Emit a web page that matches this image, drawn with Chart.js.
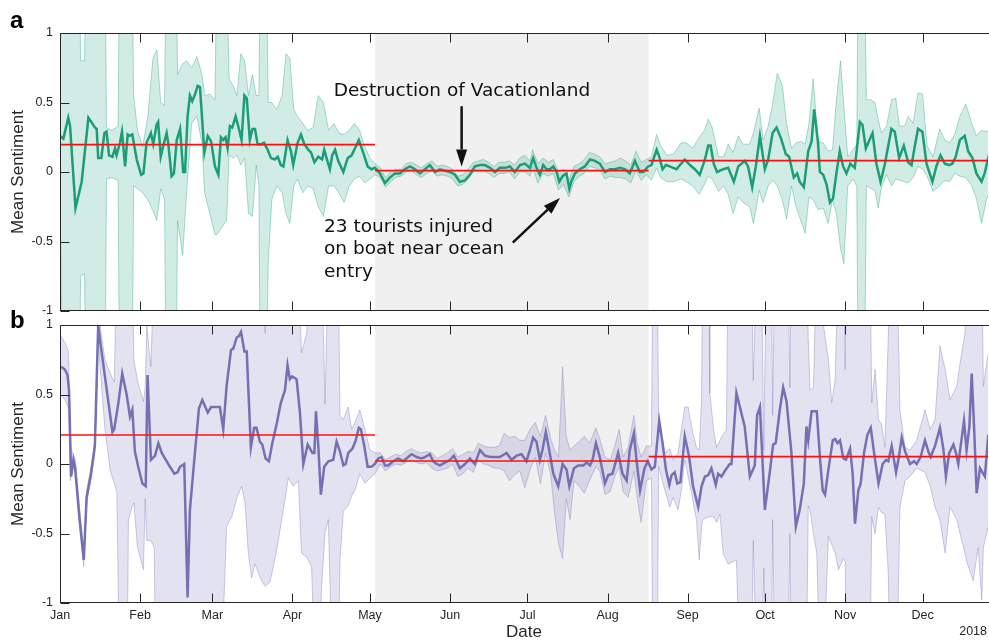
<!DOCTYPE html>
<html>
<head>
<meta charset="utf-8">
<script src="https://cdn.jsdelivr.net/npm/chart.js@4.4.1/dist/chart.umd.min.js"></script>
<style>
body { margin: 0; width: 989px; height: 641px; overflow: hidden; background: #fff; position: relative; }
canvas { position: absolute; left: 0; }
#chartA { top: 0; }
#chartB { top: 318px; }
.panel { position: absolute; font: bold 24px "Liberation Sans", Arial, sans-serif; line-height: 24px; color: #000; }
</style>
</head>
<body>
<canvas id="chartA" width="989" height="320"></canvas>
<canvas id="chartB" width="989" height="323"></canvas>
<div class="panel" style="left:10px;top:8px">a</div>
<div class="panel" style="left:10px;top:308px">b</div>
<script>
// x axis is day of year 2017 (0 = Jan 1)
const monthDays = [0, 31, 59, 90, 120, 151, 181, 212, 243, 273, 304, 334]
const monthNames = ['Jan', 'Feb', 'Mar', 'Apr', 'May', 'Jun', 'Jul', 'Aug', 'Sep', 'Oct', 'Nov', 'Dec']
const yTicks = [-1, -0.5, 0, 0.5, 1]

// eruption periods and the mean of each one
const periodStart = [0, 122, 227.9]
const periodEnd = [122, 227.9, 359.3]
const periodMeanA = [0.197, 0.01, 0.082]
const periodMeanB = [0.209, 0.022, 0.053]
const grayStart = 122
const grayEnd = 227.9

// panel a: [day, mean sentiment]
const sentA = [
    [0, 0.26], [1.3, 0.24], [3.2, 0.39], [3.9, 0.33], [6, -0.26], [8.4, -0.07], [11, 0.39], [12.5, 0.35], [13.5, 0.32], [14.2, 0.31],
    [14.8, 0.10], [16, 0.10], [17.2, 0.28], [18, 0.29], [19, 0.12], [20.3, 0.11], [21.3, 0.17], [21.9, 0.12], [23.2, 0.21], [24, 0.29],
    [25.2, 0.04], [26.2, 0.27], [27, 0.26], [28, 0.27], [29.7, 0.09], [31.4, -0.02], [32.3, -0.01], [33.5, 0.21], [35.2, 0.28], [36.1, 0.20],
    [37.4, 0.34], [38, 0.36], [39, 0.11], [40, 0.19], [41.3, 0.28], [41.9, 0.21], [43.2, -0.03], [44.1, -0.01], [45.2, 0.23], [46.5, 0.31],
    [47.7, 0.00], [48.4, 0.00], [49.4, 0.40], [50.3, 0.55], [51.2, 0.51], [52.3, 0.56], [53.3, 0.62], [54.2, 0.61], [55.9, 0.14], [57.2, 0.26],
    [58.5, 0.22], [60, 0.04], [61.3, -0.02], [62.3, 0.25], [63.2, 0.23], [64.1, 0.25], [64.9, 0.17], [65.8, 0.33], [66.7, 0.32], [68, 0.40],
    [69, 0.33], [70.3, 0.23], [71.4, 0.55], [72.3, 0.53], [73.5, 0.23], [74.5, 0.31], [75.5, 0.31], [76.5, 0.20], [78, 0.20], [79, 0.21],
    [80.4, 0.16], [81.7, 0.10], [83.2, 0.09], [84.3, 0.11], [85.5, 0.05], [86.5, 0.04], [88.1, 0.23], [89.4, 0.15], [90.3, 0.05], [92, 0.21],
    [93.3, 0.27], [94.6, 0.20], [96.1, 0.16], [97.2, 0.14], [98.5, 0.07], [100, 0.11], [101.5, 0.09], [102.3, 0.16], [103.2, 0.10], [104.5, 0.02],
    [105.4, 0.12], [106.5, 0.16], [107.7, 0.08], [109.7, 0.00], [111.4, 0.10], [112.9, 0.12], [114.2, 0.17], [115.7, 0.23], [117.4, 0.14], [119.1, 0.04],
    [120.6, 0.02], [122, 0.03], [123.9, -0.01], [125.8, -0.08], [127.7, -0.04], [129.7, -0.01], [131.6, -0.01], [133.5, 0.02], [135.5, 0.04], [137.4, 0.02],
    [139.4, -0.01], [141.3, 0.02], [143.2, 0.05], [145.2, 0.00], [147.1, 0.02], [149, 0.01], [151, 0.00], [152.9, -0.02], [154.8, -0.07], [156.8, -0.06],
    [158.7, -0.02], [160.6, 0.04], [162.6, 0.05], [164.5, 0.05], [166.5, 0.03], [168.4, 0.00], [170.3, 0.03], [172.3, 0.03], [174.2, 0.04], [176.1, 0.00],
    [178.1, 0.05], [180, 0.06], [181.9, 0.03], [183.2, 0.10], [184.5, 0.03], [185.8, -0.02], [187.1, 0.05], [188.4, 0.02], [189.7, 0.02], [191, 0.04],
    [192.3, 0.00], [193.3, -0.07], [194.6, -0.03], [196.1, -0.01], [197.2, -0.12], [198.1, -0.06], [199.4, -0.01], [201.3, 0.02], [203.2, 0.04], [205.2, 0.09],
    [207.1, 0.08], [209, 0.06], [211, 0.00], [212.9, 0.02], [214.8, 0.02], [216.8, 0.03], [218.7, 0.02], [220.6, -0.01], [222.6, 0.08], [224.5, 0.00],
    [225.8, 0.00], [227.7, 0.04], [229, 0.05], [229.7, 0.09], [231, 0.16], [232, 0.11], [233.3, 0.02], [234.6, 0.05], [236.1, 0.04], [237.4, 0.03],
    [238.7, 0.02], [240, 0.05], [241.9, 0.09], [243.9, 0.05], [245.8, 0.02], [247.7, -0.02], [249.7, 0.09], [251, 0.19], [251.9, 0.19], [253.1, 0.06],
    [254.4, 0.00], [256.8, 0.02], [258.7, 0.03], [260.9, -0.07], [262.6, 0.04], [263.9, 0.06], [265.1, 0.08], [266.4, 0.04], [268, -0.11], [269.4, 0.04],
    [271, 0.26], [272.9, 0.02], [274.2, 0.09], [275.9, 0.28], [277.4, 0.32], [279, 0.25], [281, 0.13], [282.3, 0.11], [284.1, -0.04], [285.4, -0.01],
    [286.4, -0.07], [288, -0.11], [289.7, 0.15], [291, 0.22], [292, 0.45], [293.5, 0.21], [294.2, 0.00], [295.5, -0.02], [296.8, -0.09], [298.1, -0.22],
    [299.3, -0.19], [300.6, -0.01], [301.9, 0.15], [303.2, 0.04], [304.5, -0.01], [306, 0.06], [307.7, 0.03], [309.7, 0.36], [310.7, 0.34], [312, 0.17],
    [314.6, 0.28], [316.1, 0.06], [317.7, -0.07], [319.3, 0.05], [321.9, 0.31], [323.2, 0.29], [324.9, 0.10], [326.7, 0.19], [328.4, 0.07], [329.7, 0.05],
    [331, 0.19], [332.2, 0.31], [333.9, 0.29], [335.5, 0.06], [337.8, -0.07], [339.3, 0.04], [340.9, 0.12], [342.6, 0.06], [344.2, 0.05], [345.5, 0.06],
    [346.8, 0.11], [348.4, 0.23], [350.3, 0.26], [351.6, 0.15], [353.3, 0.10], [354.8, -0.01], [356.8, -0.07], [358, -0.01], [359.6, 0.12]
]

// panel a: [day, upper bound, lower bound]
const bandA = [
    [0, 0.78, -0.18], [1, 1.5, -1.5], [7.5, 1.5, -1.5], [8, 0.80, -0.75], [9.5, 0.80, -0.73], [10, 1.5, -1.5], [17.5, 1.5, -1.5], [18, 0.32, -0.05],
    [20, 0.30, -0.04], [22.5, 0.33, -0.06], [23, 1.5, -1.5], [28, 1.5, -1.5], [28.5, 0.55, -0.10], [30, 0.30, -0.12], [32, 0.18, -0.15], [34, 0.40, -0.20],
    [36, 0.82, -0.28], [37.5, 0.88, -0.35], [39, 0.50, -0.12], [40.5, 0.48, -0.20], [41, 1.5, -1.5], [45, 1.5, -1.5], [45.5, 0.70, -0.35], [47.5, 0.78, -0.60],
    [49, 0.80, -0.15], [51, 0.75, 0.35], [53, 0.83, 0.40], [55, 0.70, 0.20], [56, 0.55, -0.15], [58, 0.56, -0.30], [60, 0.52, -0.45], [60.7, 1.5, -0.45],
    [64.5, 1.5, -0.35], [65.5, 0.67, 0.12], [67, 0.62, 0.10], [68.5, 0.55, 0.12], [70, 0.85, 0.05], [71.5, 0.80, 0.10], [73, 0.55, -0.30], [74.5, 0.70, -0.32],
    [76, 0.55, 0.05], [77, 0.55, -0.10], [77.5, 1.5, -1.5], [80, 1.5, -1.5], [80.6, 0.50, -0.66], [82, 0.50, -0.20], [84, 0.45, -0.10], [86, 0.55, -0.15],
    [87.5, 0.85, -0.30], [89, 0.82, -0.37], [90.5, 0.45, -0.10], [92, 0.40, -0.05], [94, 0.35, -0.15], [96, 0.30, -0.10], [98, 0.32, -0.12], [100, 0.55, -0.25],
    [102, 0.50, -0.32], [104, 0.30, -0.10], [106, 0.35, -0.10], [108, 0.28, -0.15], [110, 0.27, -0.22], [112, 0.30, -0.10], [114, 0.35, -0.05], [116, 0.30, -0.03],
    [118, 0.18, -0.08], [120, 0.10, -0.05], [122, 0.06, -0.02], [124, 0.03, -0.04], [126, -0.04, -0.11], [128, 0.00, -0.07], [130, 0.02, -0.04], [132, 0.02, -0.03],
    [134, 0.06, 0.00], [136, 0.07, 0.01], [138, 0.05, -0.02], [140, 0.03, -0.04], [142, 0.06, -0.01], [144, 0.08, 0.01], [146, 0.04, -0.03], [148, 0.05, -0.02],
    [150, 0.04, -0.03], [152, 0.02, -0.05], [154, -0.03, -0.10], [156, -0.02, -0.09], [158, 0.02, -0.05], [160, 0.07, 0.00], [162, 0.08, 0.01], [164, 0.09, 0.01],
    [166, 0.07, -0.01], [168, 0.04, -0.04], [170, 0.07, -0.01], [172, 0.07, -0.01], [174, 0.08, 0.00], [176, 0.05, -0.05], [178, 0.10, 0.00], [180, 0.12, 0.00],
    [182, 0.08, -0.03], [183, 0.16, 0.04], [185, 0.06, -0.08], [187, 0.10, -0.01], [189, 0.07, -0.03], [191, 0.09, -0.01], [193, 0.00, -0.13], [195, 0.02, -0.09],
    [197, -0.06, -0.18], [199, 0.04, -0.07], [201, 0.06, -0.03], [203, 0.09, -0.01], [205, 0.14, 0.04], [207, 0.13, 0.03], [209, 0.11, 0.01], [211, 0.06, -0.05],
    [213, 0.07, -0.03], [215, 0.08, -0.04], [217, 0.10, -0.04], [219, 0.08, -0.05], [221, 0.05, -0.08], [223, 0.15, 0.01], [225, 0.07, -0.06], [227, 0.09, -0.02],
    [229, 0.11, -0.06], [231, 0.27, 0.03], [232.5, 0.19, -0.04], [235, 0.12, -0.07], [237.5, 0.13, -0.07], [240.5, 0.21, -0.05], [242.5, 0.21, -0.07], [245, 0.17, -0.10],
    [247.5, 0.25, -0.16], [249.5, 0.30, -0.09], [251, 0.38, -0.03], [252.5, 0.32, -0.05], [255, 0.11, -0.14], [257, 0.11, -0.10], [258.7, 0.20, -0.16], [260.6, 0.14, -0.30],
    [262.6, 0.26, -0.18], [264.5, 0.20, -0.22], [267, 0.20, -0.25], [268.5, 0.28, -0.37], [270.7, 0.46, -0.13], [272.2, 0.23, -0.22], [274.2, 0.33, -0.10], [276, 0.50, -0.06],
    [277.7, 0.71, -0.10], [279.7, 0.62, -0.20], [281.3, 0.35, -0.34], [283.2, 0.17, -0.10], [285, 0.21, -0.25], [287, 0.22, -0.36], [288.5, 0.20, -0.44], [290, 0.35, -0.18],
    [291.6, 0.67, -0.20], [293.5, 0.22, -0.27], [295.5, 0.21, -0.26], [297.4, 0.15, -0.37], [299.1, 0.16, -0.20], [300.6, 0.52, -0.30], [302.2, 0.80, -0.55], [303.5, 0.47, -0.66],
    [305, 0.11, -0.10], [307, 0.16, -0.05], [308.5, 0.20, -0.10], [309, 1.5, -1.5], [311.5, 1.5, -1.5], [312.2, 0.52, -0.10], [314, 0.52, -0.12], [315.5, 0.50, -0.13],
    [316.8, 0.38, -0.26], [318, 0.28, -0.11], [320, 0.33, -0.02], [322, 0.52, -0.10], [323.6, 0.53, -0.05], [325, 0.33, -0.06], [327, 0.33, -0.07], [328.4, 0.40, -0.08],
    [330.3, 0.35, -0.04], [332.2, 0.57, 0.04], [334, 0.56, 0.02], [335.7, 0.19, -0.03], [338, 0.11, -0.14], [340.6, 0.31, -0.10], [342.6, 0.23, -0.06], [344.5, 0.21, -0.07],
    [346.4, 0.27, -0.01], [348.4, 0.40, -0.03], [350.7, 0.49, -0.04], [353, 0.35, -0.10], [354.8, 0.26, -0.19], [356.8, 0.30, -0.37], [358.7, 0.29, -0.20], [361, 0.30, -0.10]
]

// panel b: [day, mean sentiment]
const sentB = [
    [0.4, 0.70], [1.9, 0.68], [2.9, 0.64], [3.5, 0.53], [4.3, -0.09], [5.2, 0.03], [5.8, -0.02], [7.4, -0.36], [9.2, -0.69], [10.3, -0.24],
    [12, -0.07], [13.5, 0.13], [14.8, 1.0], [15.5, 0.89], [17.4, 0.63], [20.3, 0.23], [21, 0.25], [22.6, 0.44], [24.1, 0.65], [25.8, 0.50],
    [27.1, 0.34], [28, 0.39], [29, 0.09], [30.3, -0.02], [31.9, -0.14], [33.2, -0.16], [33.9, 0.64], [35.2, 0.03], [36.8, 0.06], [38.1, 0.15],
    [39.4, 0.08], [41.9, 0.00], [44.3, -0.07], [45.5, -0.06], [46.5, -0.02], [48.1, 0.00], [49.4, -0.96], [50.3, -0.33], [52, 0.03], [53.8, 0.40],
    [55.1, 0.46], [57.2, 0.37], [58.5, 0.41], [60, 0.41], [61.9, 0.41], [63.2, 0.25], [64.5, 0.56], [66.2, 0.82], [67.1, 0.83], [68.4, 0.91],
    [69.3, 0.92], [70.1, 0.95], [71.4, 0.81], [72.3, 0.81], [73.9, 0.12], [75.2, 0.26], [76.1, 0.26], [77.4, 0.16], [78.3, 0.14], [79.6, 0.04],
    [80.9, 0.02], [82.2, 0.15], [83.9, 0.29], [85.5, 0.44], [87.1, 0.53], [88.1, 0.71], [89, 0.61], [89.9, 0.63], [91.6, 0.61], [92.9, 0.37],
    [94.2, 0.00], [95.9, 0.14], [96.8, 0.11], [97.7, 0.08], [98.5, 0.08], [99.1, 0.38], [100, 0.13], [101, -0.22], [102.3, -0.02], [103.9, 0.02],
    [105.8, 0.03], [107.1, 0.16], [108.4, 0.09], [109.7, -0.01], [110.6, 0.00], [111.6, 0.08], [113.2, 0.11], [114.5, 0.17], [115.7, 0.26], [116.5, 0.25],
    [117.8, 0.13], [119.1, -0.02], [120.6, -0.02], [121.9, 0.00], [123.2, 0.04], [124.5, 0.05], [125.8, -0.01], [127.1, -0.01], [129, 0.02], [131, 0.04],
    [132.9, 0.02], [134.8, 0.05], [136.1, 0.07], [138.1, 0.05], [140, 0.04], [141.3, 0.05], [143.2, 0.07], [144.5, 0.02], [145.8, 0.00], [147.1, -0.01],
    [149, 0.01], [151, 0.03], [152.5, 0.06], [153.5, 0.02], [154.8, -0.03], [156.8, 0.00], [158.7, 0.04], [160.6, 0.00], [162.6, 0.10], [164.5, 0.06],
    [166.5, 0.05], [168.4, 0.05], [170.3, 0.05], [172.9, 0.08], [174.8, 0.03], [176.8, 0.06], [178.7, 0.07], [180.6, 0.02], [181.9, 0.10], [183.2, 0.19],
    [184.5, 0.16], [185.8, 0.03], [186.8, 0.10], [188.1, 0.23], [189.4, 0.10], [191, -0.07], [192.9, -0.16], [194.6, 0.00], [196.1, -0.04], [197.2, -0.16],
    [199, -0.03], [200.6, -0.01], [202.6, -0.01], [203.9, 0.01], [205.2, -0.01], [206.2, 0.03], [207.5, 0.15], [209, 0.05], [211, -0.14], [212.3, -0.08],
    [213.9, -0.07], [216.1, 0.08], [217.8, -0.07], [219.4, -0.12], [220.6, 0.10], [222.2, 0.22], [223.2, 0.03], [224.6, -0.19], [226.3, -0.03], [227.6, 0.02],
    [229, -0.04], [230.3, -0.02], [232, 0.31], [233.3, 0.15], [234.6, -0.04], [235.9, -0.15], [236.8, -0.08], [238, -0.06], [239, -0.14], [240.2, -0.13],
    [241.9, 0.20], [243.6, 0.05], [245.1, -0.16], [247.1, -0.31], [248.4, -0.16], [249.7, -0.09], [251, -0.08], [252.2, -0.03], [253.9, -0.15], [254.8, -0.07],
    [256.1, -0.09], [257.8, -0.04], [259.3, 0.00], [260, 0.00], [261.9, 0.51], [265.1, 0.27], [267.1, -0.09], [269, -0.01], [269.9, 0.35], [271, 0.41],
    [272.9, -0.33], [274.8, -0.06], [276.1, 0.14], [277.1, 0.15], [278.7, 0.39], [280, 0.55], [281.3, 0.45], [283.2, 0.08], [284.9, -0.45], [286.4, -0.33],
    [288, -0.14], [289, 0.27], [289.7, 0.17], [291, 0.38], [292.2, 0.38], [293, 0.38], [294.3, 0.03], [295.3, -0.19], [296.2, -0.22], [297.5, -0.04],
    [299.2, 0.17], [300.1, 0.18], [301, 0.15], [302, 0.17], [303.3, 0.04], [304.3, 0.03], [305.9, 0.11], [306.9, -0.07], [307.8, -0.43], [309.1, -0.19],
    [310, -0.14], [311.3, 0.08], [312.6, 0.21], [313.9, 0.26], [315.2, 0.08], [316.9, -0.14], [318.5, 0.00], [319.8, 0.03], [320.7, 0.02], [322, 0.13],
    [323.7, -0.06], [324.6, 0.03], [325.9, 0.19], [327.2, 0.09], [329.1, 0.00], [330.7, 0.02], [331.7, 0.00], [333.2, 0.05], [334.9, 0.17], [336.2, 0.09],
    [337.1, 0.05], [338.8, 0.13], [340.7, 0.26], [342, 0.11], [343, -0.09], [344.3, 0.08], [345.9, 0.14], [346.9, 0.08], [347.8, 0.00], [350, 0.31],
    [351, 0.10], [352.1, 0.27], [353, 0.65], [353.9, 0.27], [354.9, -0.21], [356.2, -0.03], [358.1, -0.09], [359.4, 0.21]
]

// panel b: [day, upper bound, lower bound]
const bandB = [
    [0, 0.93, 0.50], [2, 0.87, 0.46], [3.3, 0.81, 0.40], [4, 0.12, -0.12], [5.2, 0.07, -0.02], [6, 0.03, -0.06], [7.4, -0.28, -0.42], [9.2, -0.64, -0.74],
    [10.3, -0.19, -0.28], [12, -0.02, -0.12], [13.5, 0.17, 0.08], [14.7, 1.0, 0.92], [15.5, 1.0, 0.70], [17.4, 0.75, 0.25], [19.5, 0.65, -0.05], [21, 0.59, -0.14],
    [22, 1.5, -0.20], [23, 1.5, -1.5], [26, 1.5, -1.5], [26.5, 1.5, -0.40], [28, 1.5, -0.30], [28.6, 0.75, -0.28], [30, 0.60, -0.60], [32.3, 0.45, -0.76],
    [33, 0.55, -0.25], [33.6, 1.0, -0.55], [35.2, 0.70, -0.55], [36.5, 1.5, -0.60], [37, 1.5, -1.5], [62.5, 1.5, -1.5], [64.5, 1.5, -0.45], [66.5, 1.5, -0.38],
    [68.4, 1.5, -0.25], [70.3, 1.5, -0.16], [71.6, 1.5, -0.28], [72.9, 1.5, -0.64], [74.2, 1.5, -0.82], [75.5, 1.5, -0.72], [78, 1.5, -0.84], [79.4, 0.94, -0.88],
    [81.3, 1.5, -0.85], [83.9, 1.5, -0.62], [87.1, 1.5, -0.26], [88.4, 1.5, -0.10], [90.3, 1.5, -0.16], [92.3, 1.5, -0.12], [93.5, 0.80, -0.64], [95.5, 0.94, -0.67],
    [97.4, 1.5, -0.74], [98.7, 1.5, -1.5], [100, 1.5, -1.5], [101.3, 1.5, -0.88], [102.6, 0.43, -0.50], [103.9, 1.5, -0.40], [105.4, 1.5, -1.5], [107.7, 1.5, -1.5],
    [108.4, 0.35, -0.69], [109.7, 0.32, -0.34], [111.6, 0.41, -0.30], [112.9, 0.25, -0.23], [114.2, 0.30, -0.19], [116.1, 0.39, -0.07], [118.1, 0.25, -0.14], [120, 0.10, -0.10],
    [122, 0.08, -0.07], [124, 0.08, 0.00], [126, 0.03, -0.05], [128, 0.05, -0.02], [130, 0.07, 0.00], [132, 0.06, -0.01], [134, 0.09, 0.01], [136, 0.11, 0.03],
    [138, 0.09, 0.01], [140, 0.08, 0.00], [142, 0.09, 0.01], [144, 0.08, -0.03], [146, 0.04, -0.05], [148, 0.06, -0.04], [150, 0.08, -0.03], [152, 0.11, 0.00],
    [154, 0.05, -0.09], [156, 0.07, -0.07], [158, 0.09, -0.03], [160, 0.08, -0.06], [162, 0.15, 0.03], [164, 0.13, 0.00], [166, 0.12, -0.01], [168, 0.12, -0.03],
    [170, 0.13, -0.03], [172, 0.22, -0.05], [174, 0.19, -0.12], [176, 0.20, -0.08], [178, 0.17, -0.05], [180, 0.17, -0.17], [182, 0.25, -0.04], [184, 0.30, 0.05],
    [186, 0.20, -0.14], [188, 0.35, 0.08], [190, 0.18, -0.08], [191.5, 0.10, -0.35], [193, 0.05, -0.57], [194.6, 0.70, -0.68], [196, 0.20, -0.25], [197.5, 0.10, -0.40],
    [199, 0.13, -0.12], [201, 0.16, -0.16], [203, 0.20, -0.21], [205, 0.15, -0.12], [207.5, 0.26, -0.02], [209, 0.18, -0.05], [211, 0.05, -0.22], [213, 0.03, -0.20],
    [215, 0.14, -0.08], [216.5, 0.25, -0.02], [218, 0.05, -0.20], [220, 0.12, -0.24], [222.2, 0.35, -0.05], [223.5, 0.15, -0.25], [225, 0.05, -0.42], [227, 0.13, -0.12],
    [229, 0.13, -0.10], [229.5, 1.5, -1.5], [231.2, 1.5, -1.5], [231.8, 0.32, -0.02], [234.2, 0.08, -0.19], [236.1, 0.11, -0.31], [237.4, 0.03, -0.24], [239.3, 0.08, -0.33],
    [240.6, 0.25, -0.19], [241.9, 0.41, 0.03], [243.2, 0.41, -0.09], [244.5, 0.27, -0.21], [246.4, 0.12, -0.40], [247.5, 0.10, -0.69], [248.4, 0.46, -0.45], [248.8, 1.5, -0.40],
    [251.3, 1.5, -0.38], [251.6, 0.51, -0.38], [253.1, 0.24, -0.38], [254.2, 0.12, -0.42], [255.5, 0.17, -0.36], [256.8, 0.22, -0.65], [258, 0.24, -0.69], [258.7, 1.5, -0.72],
    [261.9, 1.5, -0.69], [263.2, 1.5, -1.5], [267.7, 1.5, -1.5], [268.4, 0.60, -0.55], [269.7, 1.5, -1.5], [271.6, 1.5, -1.5], [272.5, 0.10, -0.75], [273.5, 1.5, -1.5],
    [275.5, 1.5, -1.5], [275.9, 0.35, -0.40], [276.8, 1.5, -1.5], [281.9, 1.5, -1.5], [282.6, 0.55, -0.50], [283.2, 1.5, -1.5], [289, 1.5, -1.5], [289.7, 0.90, -0.30],
    [290.4, 0.53, -0.33], [291.7, 0.55, -0.50], [293, 1.5, -0.64], [294.3, 1.5, -1.5], [295.6, 1.0, -1.5], [297.5, 0.75, -0.52], [298.8, 0.44, -0.58], [300.1, 0.60, -0.64],
    [301.4, 1.5, -0.76], [303.3, 1.5, -0.68], [304, 0.68, -0.70], [304.6, 1.5, -1.5], [313.6, 1.5, -1.5], [314.3, 0.44, -0.38], [315.6, 0.68, -0.50], [316.9, 0.32, -0.31],
    [318.1, 0.29, -0.35], [319.4, 0.12, -0.36], [320.7, 0.92, -0.79], [321.4, 1.5, -1.5], [324, 1.5, -1.5], [325.2, 0.39, -0.31], [327.2, 0.12, -0.12], [329.1, 0.10, -0.09],
    [331.7, 0.17, -0.03], [334.9, 0.39, -0.06], [336.9, 0.25, -0.16], [338.8, 0.32, -0.31], [340.7, 0.85, -0.40], [342.7, 0.68, -0.64], [344.6, 0.46, -0.31], [347.2, 0.56, -0.40],
    [349.1, 0.80, -0.55], [350.4, 0.94, -0.64], [351, 1.5, -0.70], [353.6, 1.5, -0.84], [355.5, 1.5, -0.60], [356.9, 1.5, -0.98], [357.5, 0.56, -0.60], [359.4, 0.80, -0.45],
    [361, 0.60, -0.40]
]

const axisColor = '#262626'
Chart.defaults.font.family = '"Liberation Sans", Arial, Helvetica, sans-serif'
Chart.defaults.animation = false

function arrow(ctx, x0, y0, x1, y1) {
    const ang = Math.atan2(y1 - y0, x1 - x0)
    const hl = 17, hw = 5.5
    const bx = x1 - hl * Math.cos(ang), by = y1 - hl * Math.sin(ang)
    ctx.lineWidth = 2.5
    ctx.beginPath()
    ctx.moveTo(x0, y0)
    ctx.lineTo(bx, by)
    ctx.stroke()
    ctx.beginPath()
    ctx.moveTo(x1, y1)
    ctx.lineTo(bx + hw * Math.sin(ang), by - hw * Math.cos(ang))
    ctx.lineTo(bx - hw * Math.sin(ang), by + hw * Math.cos(ang))
    ctx.closePath()
    ctx.fill()
}

// no extra room for the end tick labels: the chart area comes from layout padding only
function noScalePadding(s) {
    s.paddingTop = 0
    s.paddingBottom = 0
    s.paddingLeft = 0
    s.paddingRight = 0
}

const framePlugin = {
    id: 'frame',
    beforeDatasetsDraw(chart) {
        const { ctx, chartArea: a, scales: { x } } = chart
        const x0 = x.getPixelForValue(grayStart)
        const x1 = x.getPixelForValue(grayEnd)
        ctx.save()
        ctx.fillStyle = '#f0f0f0'
        ctx.fillRect(x0, a.top, x1 - x0, a.bottom - a.top)
        ctx.restore()
    },
    afterDatasetsDraw(chart) {
        const { ctx, chartArea: a, scales: { x, y } } = chart
        const L = Math.round(a.left) + 0.5
        const T = Math.round(a.top) + 0.5
        const B = Math.round(a.bottom) - 0.5
        ctx.save()
        ctx.strokeStyle = axisColor
        ctx.lineWidth = 1
        ctx.beginPath()
        ctx.moveTo(a.right + 2, T)
        ctx.lineTo(L, T)
        ctx.lineTo(L, B)
        ctx.lineTo(a.right + 2, B)
        monthDays.forEach(d => {
            const px = Math.round(x.getPixelForValue(d)) + 0.5
            ctx.moveTo(px, T)
            ctx.lineTo(px, T + 9)
            ctx.moveTo(px, B)
            ctx.lineTo(px, B - 9)
        })
        yTicks.forEach(v => {
            const py = Math.round(y.getPixelForValue(v)) + 0.5
            ctx.moveTo(L, py)
            ctx.lineTo(L + 9, py)
        })
        ctx.stroke()
        ctx.restore()
    },
    afterDraw(chart, args, opts) {
        const { ctx, scales: { x, y } } = chart
        ctx.save()
        ctx.fillStyle = '#111'
        ctx.strokeStyle = '#111'
        ctx.font = '18.5px "DejaVu Sans", Verdana, sans-serif'
        ctx.textBaseline = 'middle';
        (opts.notes || []).forEach(n => {
            ctx.textAlign = n.align
            ctx.fillText(n.text, x.getPixelForValue(n.x), y.getPixelForValue(n.y))
        });
        (opts.arrows || []).forEach(r => {
            arrow(ctx, x.getPixelForValue(r.from[0]), y.getPixelForValue(r.from[1]),
                x.getPixelForValue(r.to[0]), y.getPixelForValue(r.to[1]))
        })
        if (opts.corner) {
            ctx.fillStyle = axisColor
            ctx.font = '12.5px "Liberation Sans", Arial, sans-serif'
            ctx.textAlign = 'right'
            ctx.fillText(opts.corner, chart.width - 2, chart.height - 9)
        }
        ctx.restore()
    }
}

function buildChart(id, o) {
    const toXY = rows => rows.map(r => ({ x: r[0], y: r[1] }))
    const datasets = [
        { data: toXY(o.sent), borderColor: o.color, borderWidth: 2.5, order: 1 }
    ]
    periodStart.forEach((s, i) => {
        datasets.push({
            data: [{ x: s, y: o.means[i] }, { x: periodEnd[i], y: o.means[i] }],
            borderColor: '#ff1010', borderWidth: 1.6, order: 0
        })
    })
    datasets.push({
        data: o.band.map(r => ({ x: r[0], y: r[1] })),
        borderColor: o.edge, borderWidth: 1, backgroundColor: o.fill, fill: 5, order: 2
    })
    datasets.push({
        data: o.band.map(r => ({ x: r[0], y: r[2] })),
        borderColor: o.edge, borderWidth: 1, order: 2
    })

    return new Chart(document.getElementById(id), {
        type: 'line',
        data: { datasets },
        options: {
            responsive: false,
            devicePixelRatio: 1,
            layout: { padding: o.padding },
            elements: { point: { radius: 0 }, line: { tension: 0 } },
            plugins: {
                legend: { display: false },
                tooltip: { enabled: false },
                frame: o.frame
            },
            scales: {
                x: {
                    type: 'linear',
                    min: 0,
                    max: 359.3,
                    display: o.showX,
                    afterBuildTicks: s => { s.ticks = monthDays.map(v => ({ value: v })) },
                    afterFit: s => { s.height = o.showX ? 38 : 0; noScalePadding(s) },
                    grid: { display: false, drawTicks: false },
                    border: { display: false },
                    ticks: {
                        autoSkip: false, maxRotation: 0, padding: 5, color: axisColor,
                        font: { size: 12.5 },
                        callback: (v, i) => monthNames[i]
                    },
                    title: {
                        display: true, text: 'Date', color: axisColor,
                        font: { size: 17, lineHeight: 1 }, padding: { top: 0, bottom: 0 }
                    }
                },
                y: {
                    min: -1,
                    max: 1,
                    afterBuildTicks: s => { s.ticks = yTicks.map(v => ({ value: v })) },
                    afterFit: s => { s.width = 60; noScalePadding(s) },
                    grid: { display: false, drawTicks: false },
                    border: { display: false },
                    ticks: {
                        padding: 7, color: axisColor, font: { size: 12.5 },
                        callback: v => String(v)
                    },
                    title: {
                        display: true, text: 'Mean Sentiment', color: axisColor,
                        font: { size: 17, lineHeight: 1.2 }, padding: { top: 8, bottom: 0 }
                    }
                }
            }
        },
        plugins: [framePlugin]
    })
}

buildChart('chartA', {
    sent: sentA, band: bandA, means: periodMeanA,
    color: '#1b9e77', edge: 'rgba(27,158,119,0.35)', fill: 'rgba(27,158,119,0.2)',
    showX: false,
    padding: { top: 33, bottom: 9, left: 0, right: 1 },
    frame: {
        notes: [
            { text: 'Destruction of Vacationland', x: 155.6, y: 0.579, align: 'center' },
            { text: '23 tourists injured', x: 102.2, y: -0.394, align: 'left' },
            { text: 'on boat near ocean', x: 102.2, y: -0.553, align: 'left' },
            { text: 'entry', x: 102.2, y: -0.719, align: 'left' }
        ],
        arrows: [
            { from: [155.5, 0.473], to: [155.5, 0.040] },
            { from: [175.3, -0.508], to: [193.6, -0.187] }
        ]
    }
})

buildChart('chartB', {
    sent: sentB, band: bandB, means: periodMeanB,
    color: '#7570b3', edge: 'rgba(117,112,179,0.35)', fill: 'rgba(117,112,179,0.2)',
    showX: true,
    padding: { top: 7, bottom: 0, left: 0, right: 1 },
    frame: { corner: '2018' }
})
</script>
</body>
</html>
